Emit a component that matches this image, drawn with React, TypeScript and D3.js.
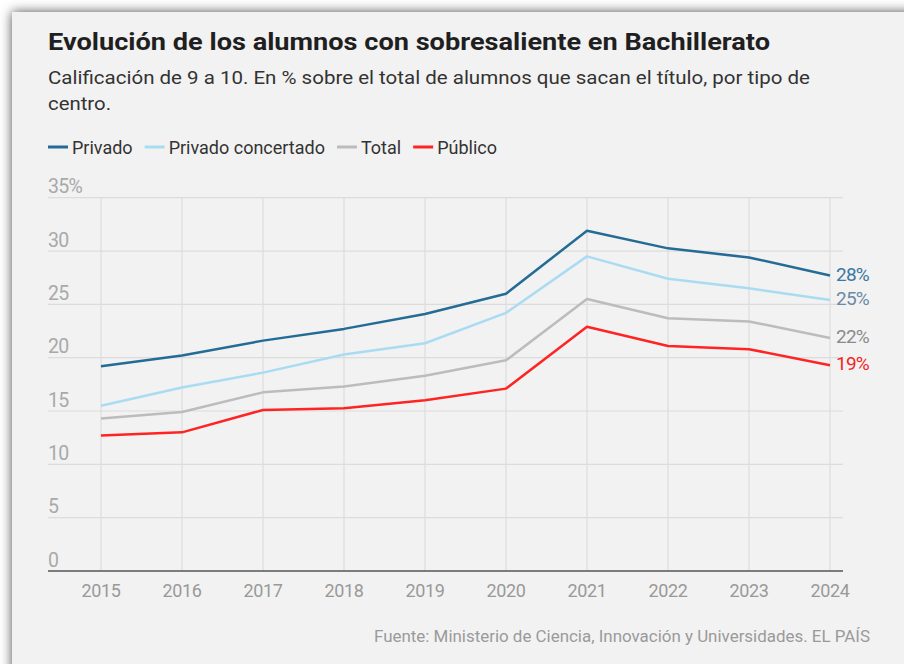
import * as React from "react";
import * as d3 from "d3";

const years: number[] = [2015, 2016, 2017, 2018, 2019, 2020, 2021, 2022, 2023, 2024];
const privado: number[] = [19.2, 20.2, 21.6, 22.7, 24.1, 26.0, 31.9, 30.25, 29.4, 27.7];
const concertado: number[] = [15.5, 17.2, 18.6, 20.3, 21.35, 24.2, 29.5, 27.4, 26.5, 25.4];
const total: number[] = [14.3, 14.9, 16.75, 17.3, 18.3, 19.75, 25.5, 23.7, 23.4, 21.85];
const publico: number[] = [12.7, 13.0, 15.1, 15.25, 16.0, 17.1, 22.9, 21.1, 20.8, 19.3];
const seriesNames: string[] = ["Privado", "Privado concertado", "Total", "Público"];
const endLabels: string[] = ["28%", "25%", "22%", "19%"];
const yTicks: number[] = [0, 5, 10, 15, 20, 25, 30, 35];

const lineColors: string[] = ["#246b96", "#a9dcf3", "#bcbcbc", "#ff2424"];
const labelColors: string[] = ["#3a77a1", "#6a89a5", "#8a8a8a", "#f22424"];
const font: string = "Roboto, 'Noto Sans', sans-serif";

interface Series {
    name: string;
    values: number[];
    color: string;
    labelColor: string;
    label: string;
}

const W: number = 904;
const H: number = 664;

class App extends React.PureComponent {
    private svgRef: React.RefObject<SVGSVGElement> = React.createRef();

    public componentDidMount(): void {
        this.drawChart();
    }

    public render(): JSX.Element {
        return <div style={{ position: "absolute", left: 0, top: 0, width: W, height: H, background: "#fff" }}>
            <svg ref={this.svgRef} width={W} height={H} />
        </div>;
    }

    private drawChart(): void {
        const svg = d3.select(this.svgRef.current);
        svg.selectAll("*").remove();

        const defs = svg.append("defs");
        const filter = defs.append("filter")
            .attr("id", "cardShadow")
            .attr("x", "-10%").attr("y", "-10%")
            .attr("width", "120%").attr("height", "120%");
        filter.append("feDropShadow")
            .attr("dx", 0).attr("dy", 0)
            .attr("stdDeviation", 6)
            .attr("flood-color", "#000")
            .attr("flood-opacity", 0.7);

        // card
        svg.append("rect")
            .attr("x", 12).attr("y", 12)
            .attr("width", W + 40).attr("height", H + 40)
            .attr("fill", "#f2f2f2")
            .attr("filter", "url(#cardShadow)");

        const series: Series[] = [privado, concertado, total, publico].map((v: number[], i: number) => ({
            name: seriesNames[i],
            values: v,
            color: lineColors[i],
            labelColor: labelColors[i],
            label: endLabels[i]
        }));

        // titles
        svg.append("text")
            .attr("x", 48).attr("y", 50)
            .attr("font-family", font)
            .attr("font-weight", 700)
            .attr("font-size", 24)
            .attr("fill", "#1f1f1f")
            .attr("textLength", 722)
            .attr("lengthAdjust", "spacingAndGlyphs")
            .text("Evolución de los alumnos con sobresaliente en Bachillerato");
        svg.append("text")
            .attr("x", 48).attr("y", 84)
            .attr("font-family", font)
            .attr("font-size", 19)
            .attr("fill", "#333")
            .attr("textLength", 762)
            .attr("lengthAdjust", "spacingAndGlyphs")
            .text("Calificación de 9 a 10. En % sobre el total de alumnos que sacan el título, por tipo de");
        svg.append("text")
            .attr("x", 48).attr("y", 110)
            .attr("font-family", font)
            .attr("font-size", 19)
            .attr("fill", "#333")
            .attr("textLength", 63)
            .attr("lengthAdjust", "spacingAndGlyphs")
            .text("centro.");

        // legend
        const legend = svg.append("g").attr("transform", "translate(48, 147)");
        let lx: number = 0;
        series.forEach((s: Series) => {
            const item = legend.append("g").attr("transform", `translate(${lx}, 0)`);
            item.append("line")
                .attr("x1", 0).attr("x2", 20)
                .attr("y1", 0).attr("y2", 0)
                .attr("stroke", s.color)
                .attr("stroke-width", 3);
            const t = item.append("text")
                .attr("x", 24).attr("y", 6.5)
                .attr("font-family", font)
                .attr("font-size", 18)
                .attr("fill", "#333")
                .text(s.name);
            const tw: number = (t.node() as SVGTextElement).getComputedTextLength();
            lx += 24 + tw + 12;
        });

        const left: number = 48;
        const right: number = 843;
        const xScale = d3.scalePoint<number>().domain(years).range([101, 830]);
        const yScale = d3.scaleLinear().domain([0, 35]).range([571, 197.7]);

        const grid = svg.append("g");
        grid.selectAll(".vgrid")
            .data(years).enter().append("line")
            .attr("x1", (d: number) => xScale(d)).attr("x2", (d: number) => xScale(d))
            .attr("y1", yScale(35)).attr("y2", yScale(0))
            .attr("stroke", "#dcdcdc")
            .attr("stroke-width", 1.2);
        grid.selectAll(".hgrid")
            .data(yTicks.filter((d: number) => d > 0)).enter().append("line")
            .attr("x1", left).attr("x2", right)
            .attr("y1", (d: number) => yScale(d)).attr("y2", (d: number) => yScale(d))
            .attr("stroke", "#dcdcdc")
            .attr("stroke-width", 1.2);
        grid.append("line")
            .attr("x1", left).attr("x2", right)
            .attr("y1", yScale(0)).attr("y2", yScale(0))
            .attr("stroke", "#555")
            .attr("stroke-width", 1.5);

        svg.append("g").selectAll("text")
            .data(yTicks).enter().append("text")
            .attr("x", left)
            .attr("y", (d: number) => yScale(d) - 4.5)
            .attr("font-family", font)
            .attr("font-size", 19.5)
            .attr("letter-spacing", -0.7)
            .attr("fill", "#a9a9a9")
            .text((d: number) => d === 35 ? `${d}%` : `${d}`);

        svg.append("g").selectAll("text")
            .data(years).enter().append("text")
            .attr("x", (d: number) => xScale(d))
            .attr("y", 597)
            .attr("text-anchor", "middle")
            .attr("font-family", font)
            .attr("font-size", 18)
            .attr("letter-spacing", -0.4)
            .attr("fill", "#999")
            .text((d: number) => `${d}`);

        const line = d3.line<number>()
            .x((_d: number, i: number) => xScale(years[i]))
            .y((d: number) => yScale(d));

        const lines = svg.append("g");
        [...series].reverse().forEach((s: Series) => {
            lines.append("path")
                .attr("d", line(s.values))
                .attr("fill", "none")
                .attr("stroke", s.color)
                .attr("stroke-width", 2.5)
                .attr("stroke-linejoin", "round");
        });

        const lastYear: number = years[years.length - 1];
        svg.append("g").selectAll("text")
            .data(series).enter().append("text")
            .attr("x", xScale(lastYear) + 6)
            .attr("y", (s: Series) => yScale(s.values[s.values.length - 1]) + 5)
            .attr("font-family", font)
            .attr("font-size", 19)
            .attr("letter-spacing", -0.8)
            .attr("fill", (s: Series) => s.labelColor)
            .text((s: Series) => s.label);

        svg.append("text")
            .attr("x", 870).attr("y", 642)
            .attr("text-anchor", "end")
            .attr("font-family", font)
            .attr("font-size", 16)
            .attr("fill", "#9a9a9a")
            .attr("textLength", 496)
            .attr("lengthAdjust", "spacingAndGlyphs")
            .text("Fuente: Ministerio de Ciencia, Innovación y Universidades. EL PAÍS");
    }
}

export default App;
